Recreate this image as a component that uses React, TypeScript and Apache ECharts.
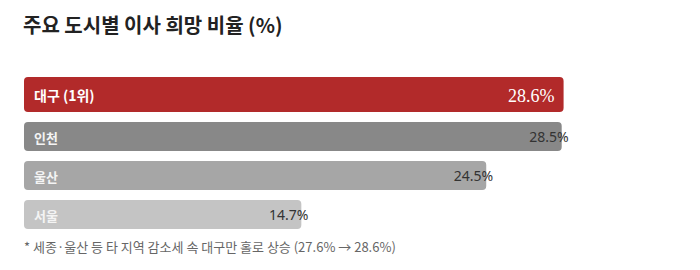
import React, { useEffect, useRef } from "react";
import * as echarts from "echarts";

const titleText = "주요 도시별 이사 희망 비율 (%)";
const footnoteText = "* 세종·울산 등 타 지역 감소세 속 대구만 홀로 상승 (27.6% → 28.6%)";
const categories = ["대구 (1위)", "인천", "울산", "서울"];
const values = [28.6, 28.5, 24.5, 14.7];
const barColors = ["#b22a2a", "#888888", "#a6a6a6", "#c4c4c4"];

const KR = "Noto Sans CJK KR";

export default function App() {
  const ref = useRef<HTMLDivElement>(null);

  useEffect(() => {
    document.body.style.margin = "0";
    if (!ref.current) return;
    const chart = echarts.init(ref.current, null, { renderer: "svg" });

    const leadData = values.map((v, i) => (i === 0 ? { value: v, itemStyle: { color: barColors[i] } } : "-"));
    const restData = values.map((v, i) => (i === 0 ? "-" : { value: v, itemStyle: { color: barColors[i] } }));

    chart.setOption({
      animation: false,
      title: [
        {
          text: titleText,
          left: 23,
          top: 14,
          padding: 0,
          textStyle: { fontFamily: KR, fontSize: 20, fontWeight: "bold", color: "#222222" },
        },
        {
          text: footnoteText,
          left: 24,
          top: 240,
          padding: 0,
          textStyle: { fontFamily: KR, fontSize: 13, fontWeight: "normal", color: "#666666" },
        },
      ],
      grid: { left: 24, right: 110, top: 75, height: 156, containLabel: false },
      xAxis: { type: "value", min: 0, max: 30, show: false },
      yAxis: {
        type: "category",
        inverse: true,
        data: categories,
        z: 10,
        axisLine: { show: false },
        axisTick: { show: false },
        splitLine: { show: false },
        axisLabel: {
          inside: true,
          margin: 10,
          interval: 0,
          fontFamily: KR,
          formatter: (v: string, i: number) => (i === 0 ? `{a|${v}}` : `{b|${v}}`),
          rich: {
            a: { fontFamily: KR, fontSize: 14, fontWeight: "bold", color: "#ffffff", padding: [1, 0, 0, 0] },
            b: { fontFamily: KR, fontSize: 13, fontWeight: "bold", color: "#f4f4f4", padding: [8, 0, 0, 0] },
          },
        },
      },
      series: [
        {
          type: "bar",
          data: leadData,
          barWidth: 35,
          barGap: "-82.857%",
          itemStyle: { borderRadius: 4 },
          label: {
            show: true,
            position: "insideRight",
            distance: 9,
            formatter: "{s|{c}%}",
            rich: {
              s: {
                color: "#ffffff",
                fontFamily: "Liberation Serif",
                fontSize: 18,
                padding: [3, 0, 0, 0],
              },
            },
          },
        },
        {
          type: "bar",
          data: restData,
          barWidth: 29,
          barGap: "-82.857%",
          itemStyle: { borderRadius: 4 },
          label: {
            show: true,
            position: "insideRight",
            distance: 0,
            offset: [7, 0],
            formatter: "{c}%",
            color: "#333333",
            fontFamily: "Noto Sans",
            fontSize: 14,
          },
        },
      ],
    });

    return () => chart.dispose();
  }, []);

  return <div ref={ref} style={{ width: 700, height: 270 }} />;
}
